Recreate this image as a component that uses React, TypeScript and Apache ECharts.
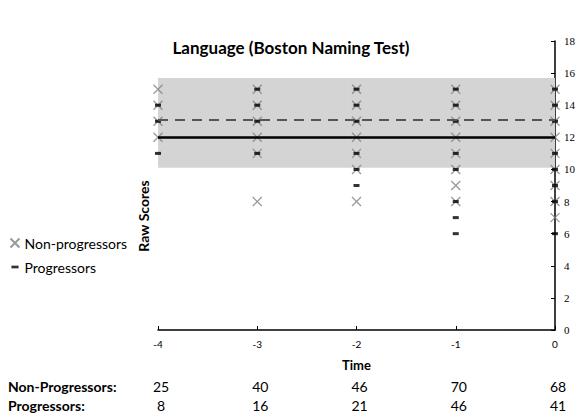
import React, { useEffect, useRef } from "react";
import * as echarts from "echarts";

const times = [-4, -3, -2, -1, 0];
const nonProgScores = [
  [15, 14, 13, 12],
  [15, 14, 13, 12, 11, 8],
  [15, 14, 13, 12, 11, 10, 8],
  [15, 14, 13, 12, 11, 10, 9, 8],
  [15, 14, 13, 12, 11, 10, 9, 8, 7],
];
const progScores = [
  [14, 13, 11],
  [15, 14, 13, 11],
  [15, 14, 13, 11, 10, 9],
  [15, 14, 13, 11, 10, 8, 7, 6],
  [15, 14, 13, 11, 10, 9, 8, 6],
];
const nonProgCounts = [25, 40, 46, 70, 68];
const progCounts = [8, 16, 21, 46, 41];
const bandLow = 10.1;
const bandHigh = 15.7;
const nonProgMean = 12;
const progMean = 13.1;

const toPoints = (scores: number[][]) =>
  scores.flatMap((col, i) => col.map((s) => [times[i], s]));

const SANS = "Lato, 'Open Sans', sans-serif";
const X_PATH = "path://M0,0L10,10M10,0L0,10";
const DASH_ICON = "path://M0,0L0,0M10,10L10,10M1,3.5L9,3.5L9,6.5L1,6.5Z";

export default function App() {
  const ref = useRef<HTMLDivElement>(null);
  useEffect(() => {
    if (!ref.current) return;
    document.body.style.margin = "0";
    const chart = echarts.init(ref.current, undefined, { renderer: "svg" });
    const tableAxis = (offset: number, counts: number[]) => ({
      type: "value",
      min: -4,
      max: 0,
      interval: 1,
      position: "bottom",
      offset,
      axisLine: { show: false },
      axisTick: { show: false },
      splitLine: { show: false },
      axisLabel: {
        margin: 0,
        fontSize: 14,
        fontFamily: SANS,
        color: "#000",
        padding: [0, 0, 0, 6],
        formatter: (v: number) => {
          const i = times.indexOf(v);
          return i >= 0 ? String(counts[i]) : "";
        },
      },
    });
    chart.setOption({
      animation: false,
      title: {
        text: "Language (Boston Naming Test)",
        left: "center",
        top: 34,
        textStyle: { fontSize: 17, fontWeight: "bold", fontFamily: SANS, color: "#000" },
      },
      legend: {
        orient: "vertical",
        left: 3,
        top: 231,
        itemWidth: 9,
        itemHeight: 9,
        itemGap: 10,
        textStyle: { fontSize: 14, fontFamily: SANS, color: "#000" },
        data: [
          { name: "Non-progressors", icon: X_PATH },
          { name: "Progressors", icon: DASH_ICON, itemStyle: { color: "#000", borderWidth: 0 } },
        ],
      },
      grid: { left: 158, right: 27, top: 41, bottom: 90 },
      xAxis: [
        {
          type: "value",
          min: -4,
          max: 0,
          interval: 1,
          name: "Time",
          nameLocation: "middle",
          nameGap: 28,
          nameTextStyle: { fontSize: 13, fontWeight: "bold", fontFamily: SANS, color: "#000" },
          axisLine: { show: true, onZero: false, lineStyle: { color: "#000", width: 1.5 } },
          axisTick: { show: true, inside: true, length: 4, lineStyle: { color: "#000" } },
          splitLine: { show: false },
          axisLabel: { fontSize: 10, fontFamily: SANS, color: "#000", margin: 9 },
        },
        tableAxis(49, nonProgCounts),
        tableAxis(68, progCounts),
      ],
      yAxis: {
        type: "value",
        position: "right",
        min: 0,
        max: 18,
        interval: 2,
        axisLine: { show: true, onZero: false, lineStyle: { color: "#000", width: 1.5 } },
        axisTick: { show: true, inside: true, length: 4, lineStyle: { color: "#000" } },
        splitLine: { show: false },
        axisLabel: { fontSize: 11, fontFamily: "'Liberation Serif', serif", color: "#000", margin: 9 },
      },
      graphic: [
        {
          type: "text",
          x: 143,
          y: 216,
          rotation: Math.PI / 2,
          style: {
            text: "Raw Scores",
            fontSize: 14,
            fontWeight: "bold",
            fontFamily: SANS,
            fill: "#000",
            textAlign: "center",
            textVerticalAlign: "middle",
          },
        },
        {
          type: "text",
          x: 8,
          y: 386,
          style: {
            text: "Non-Progressors:",
            fontSize: 14,
            fontWeight: "bold",
            fontFamily: SANS,
            fill: "#000",
            textVerticalAlign: "middle",
          },
        },
        {
          type: "text",
          x: 8,
          y: 405,
          style: {
            text: "Progressors:",
            fontSize: 14,
            fontWeight: "bold",
            fontFamily: SANS,
            fill: "#000",
            textVerticalAlign: "middle",
          },
        },
      ],
      series: [
        {
          name: "Non-progressors",
          type: "scatter",
          data: toPoints(nonProgScores),
          symbol: X_PATH,
          symbolSize: 9,
          clip: false,
          z: 3,
          itemStyle: { color: "none", borderColor: "#7f7f7f", borderWidth: 1.3 },
          markArea: {
            silent: true,
            itemStyle: { color: "#d4d4d4" },
            data: [[{ xAxis: -4, yAxis: bandLow }, { xAxis: 0, yAxis: bandHigh }]],
          },
          markLine: {
            silent: true,
            symbol: "none",
            label: { show: false },
            data: [
              {
                yAxis: nonProgMean,
                lineStyle: { color: "#000", width: 2.5, type: "solid" },
              },
              {
                yAxis: progMean,
                lineStyle: { color: "#555", width: 2, type: [10, 7] },
              },
            ],
          },
        },
        {
          name: "Progressors",
          type: "scatter",
          data: toPoints(progScores),
          symbol: "rect",
          symbolSize: [6, 3],
          clip: false,
          z: 4,
          itemStyle: { color: "#000" },
        },
      ],
    });
    return () => chart.dispose();
  }, []);
  return <div ref={ref} style={{ width: 582, height: 420 }} />;
}
